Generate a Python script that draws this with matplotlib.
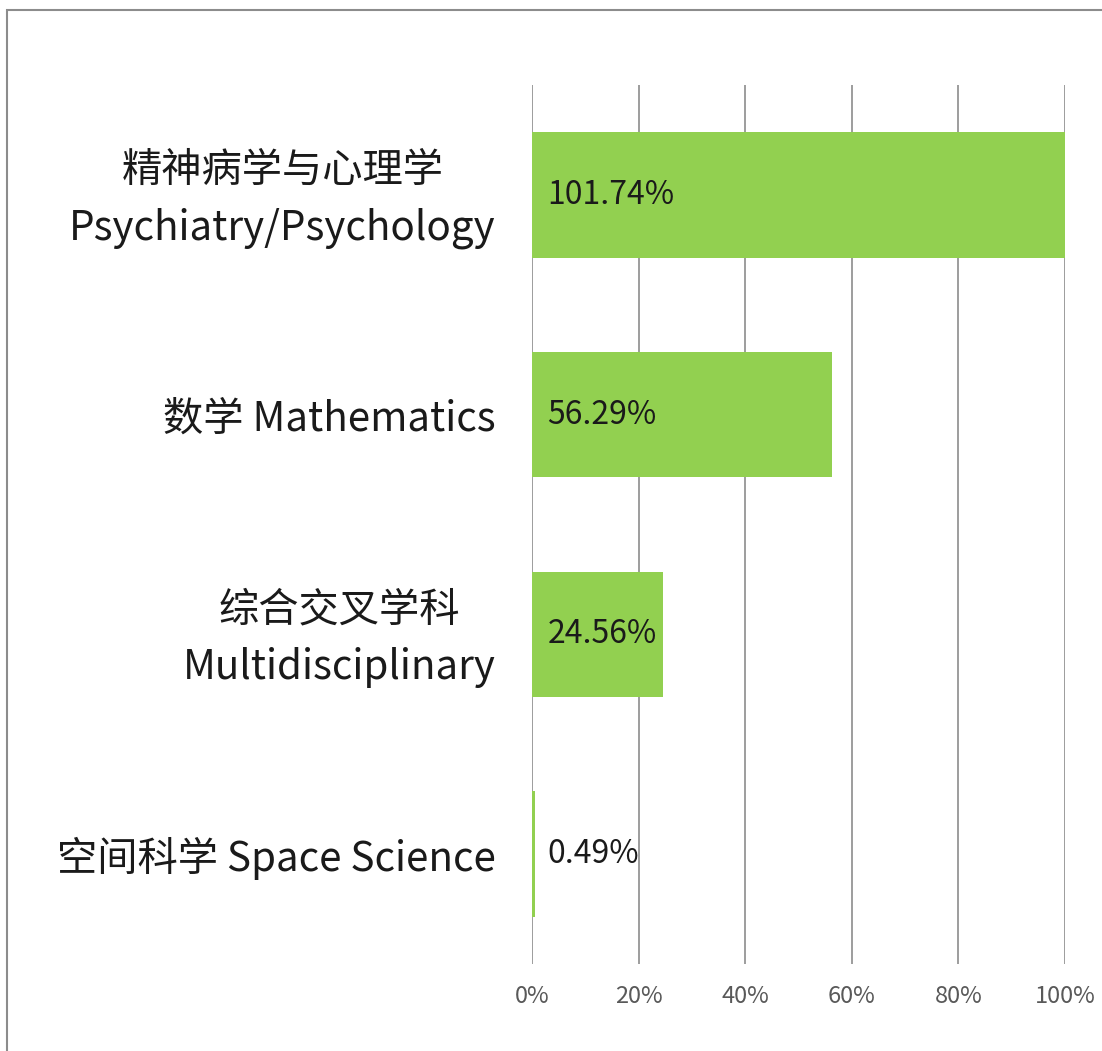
import matplotlib
matplotlib.use("Agg")
import matplotlib.pyplot as plt
import matplotlib.transforms as mtransforms
from matplotlib.patches import Rectangle
from matplotlib.ticker import FuncFormatter

plt.rcParams['font.family'] = ['Noto Sans CJK SC', 'DejaVu Sans']

categories = ["精神病学与心理学\nPsychiatry/Psychology", "数学 Mathematics",
              "综合交叉学科\nMultidisciplinary", "空间科学 Space Science"]
values = [101.74, 56.29, 24.56, 0.49]
value_labels = ["101.74%", "56.29%", "24.56%", "0.49%"]
xticks = [0, 20, 40, 60, 80, 100]

W, H = 1102, 1051
fig = plt.figure(figsize=(W / 100, H / 100), dpi=100)
ax = fig.add_axes([532 / W, 1 - 964 / H, (1065 - 532) / W, (964 - 85) / H])

y = list(range(len(categories)))
ax.barh(y, values, height=0.57, color="#92D050", zorder=2)
ax.set_xlim(0, 100)
ax.set_ylim(len(categories) - 0.5, -0.5)

ax.set_xticks(xticks)
ax.xaxis.set_major_formatter(FuncFormatter(lambda v, p: f"{v:.0f}%"))
ax.grid(axis="x", color="#8c8c8c", linewidth=1.2, zorder=0)
for s in ax.spines.values():
    s.set_visible(False)
ax.tick_params(axis="x", length=0, pad=15, labelsize=17, labelcolor="#595959")
ax.tick_params(axis="y", length=0, pad=26, labelsize=29, labelcolor="#1a1a1a")
ax.set_yticks(y)
ax.set_yticklabels(categories, ha="right", multialignment="center", linespacing=1.5)
shift = mtransforms.ScaledTranslation(0, 6 / 72, fig.dpi_scale_trans)
for lab in ax.get_yticklabels():
    if "\n" in lab.get_text():
        lab.set_transform(lab.get_transform() + shift)

for yi, lbl in zip(y, value_labels):
    ax.annotate(lbl, xy=(0, yi), xytext=(11, 0), textcoords="offset points",
                ha="left", va="center", fontsize=23, color="#1a1a1a", zorder=3)

fig.patches.append(Rectangle((7 / W, -0.05), 1.2, 1 - 10 / H + 0.05,
                             transform=fig.transFigure, fill=False,
                             edgecolor="#8c8c8c", linewidth=1.5))

fig.savefig("out.png", dpi=100, facecolor="white")
